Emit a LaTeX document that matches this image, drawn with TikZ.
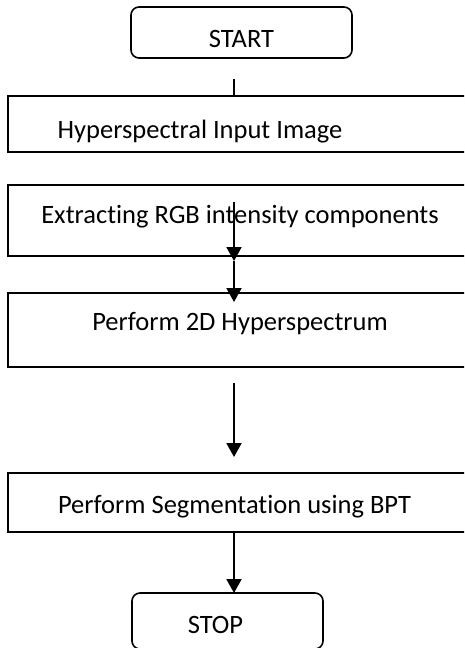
\documentclass[tikz,border=0pt]{standalone}
\usepackage{fontspec}
\setmainfont{Carlito}[Ligatures=NoCommon]
\usetikzlibrary{arrows.meta}
\begin{document}
\begin{tikzpicture}[x=1pt,y=-1pt,
 box/.style={draw,line width=1.6pt,inner sep=0pt},
 term/.style={draw,line width=1.6pt,rounded corners=8pt,inner sep=0pt},
 lbl/.style={font=\fontsize{26.5}{30}\selectfont,inner sep=0pt,anchor=base},
 arr/.style={line width=2pt,-{Triangle[width=15pt,length=14pt]}},
 ln/.style={line width=2pt}]
\useasboundingbox (0,0) rectangle (464,648);
\clip (0,0) rectangle (464,648);
% boxes
\node[term,minimum width=221pt,minimum height=51pt] (start) at (241.5,32.5) {};
\node[box,minimum width=464pt,minimum height=56pt] (hyper) at (240,124) {};
\node[box,minimum width=464pt,minimum height=71pt] (extract) at (240,220.5) {};
\node[box,minimum width=464pt,minimum height=74pt] (perf) at (240,330) {};
\node[box,minimum width=464pt,minimum height=59pt] (seg) at (240,502.5) {};
\node[term,minimum width=191pt,minimum height=56pt] (stop) at (227.5,621) {};
% labels
\node[lbl] (tstart) at (241.5,47) {START};
\node[lbl] (thyper) at (200,138.5) {Hyperspectral Input Image};
\node[lbl] (textract) at (240,223) {Extracting RGB intensity components};
\node[lbl] (tperf) at (240,330) {Perform 2D Hyperspectrum};
\node[lbl] (tseg) at (234.5,513) {Perform Segmentation using BPT};
\node[lbl] (tstop) at (215.5,633) {STOP};
% connector coordinates
\coordinate (c0s) at (234,79);
\coordinate (c1s) at (234,202);
\coordinate (c1e) at (234,261);
\coordinate (c2e) at (234,302);
\coordinate (c3s) at (234,383);
\coordinate (c3e) at (234,457);
\coordinate (c4s) at (234,533);
\coordinate (c4e) at (234,593);
% connectors
\draw[ln] (c0s) -- (c0s |- hyper.north);
\draw[arr] (c1s) -- (c1e);
\draw[arr] (c1e) -- (c2e);
\draw[arr] (c3s) -- (c3e);
\draw[arr] (c4s) -- (c4e);
\end{tikzpicture}
\end{document}
